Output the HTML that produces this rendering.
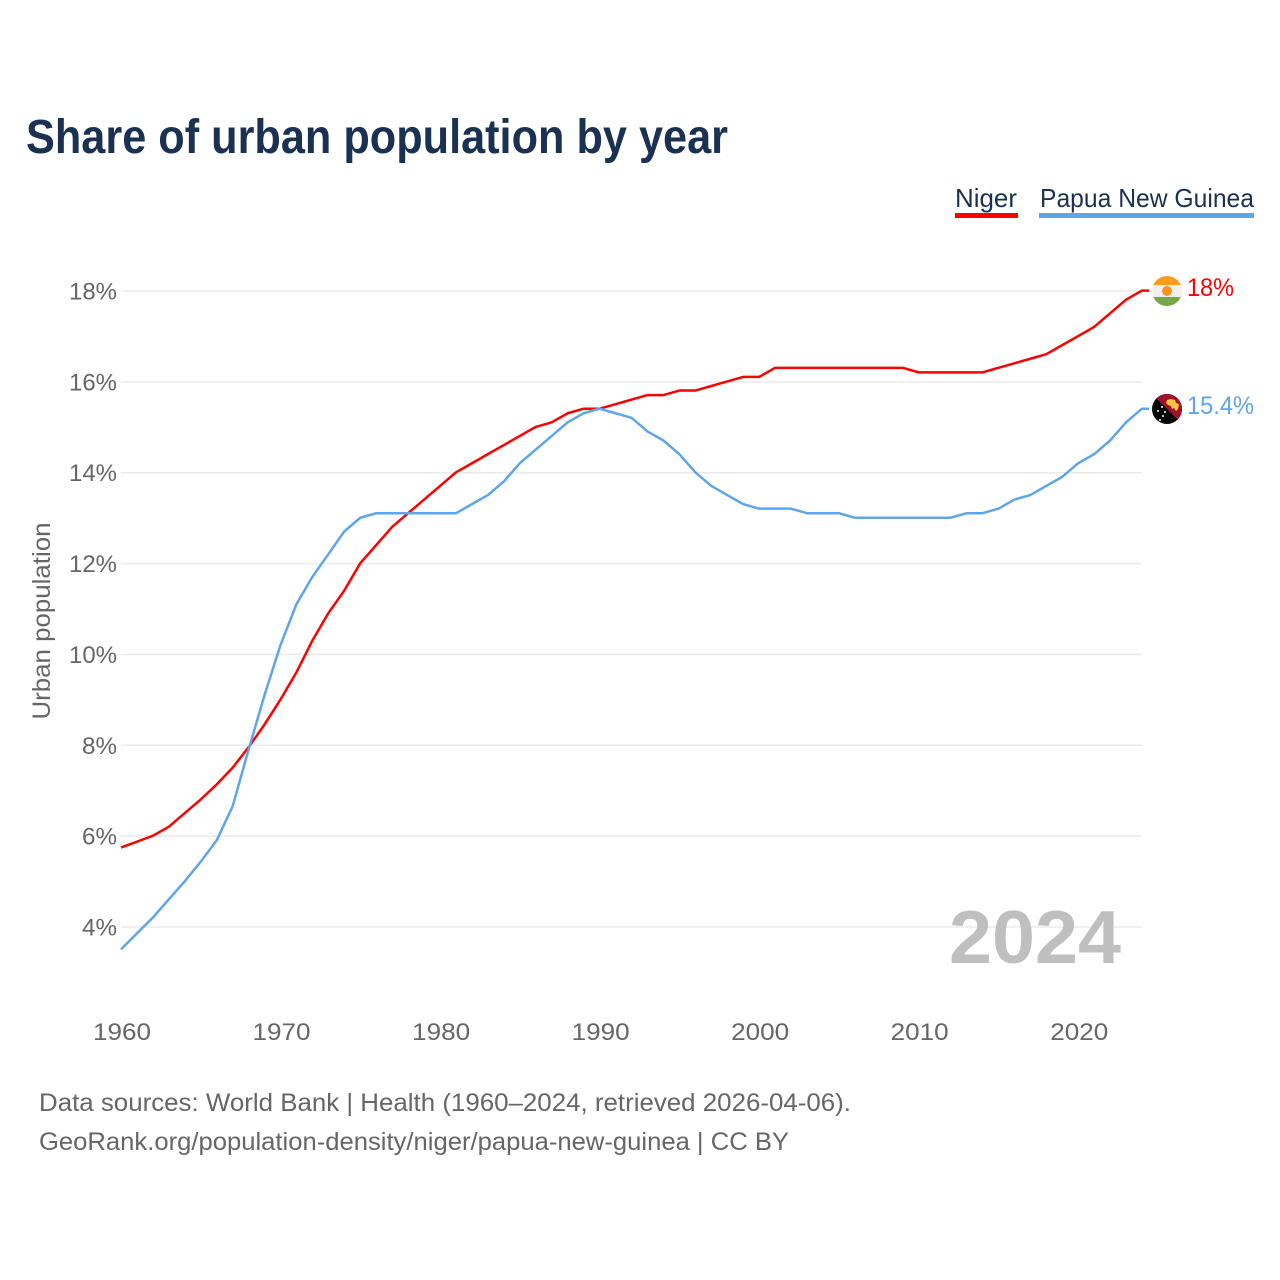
<!DOCTYPE html>
<html lang="en">
<head>
<meta charset="utf-8">
<title>Share of urban population by year</title>
<style>
html,body{margin:0;padding:0;background:#fff;width:1280px;height:1280px;overflow:hidden}
svg{display:block}
text{font-family:"Liberation Sans",sans-serif}
</style>
</head>
<body>
<svg id="chart" xmlns="http://www.w3.org/2000/svg" width="1280" height="1280" viewBox="0 0 1280 1280">
  <rect x="0" y="0" width="1280" height="1280" fill="#ffffff"/>
  <text x="26" y="153" font-size="48" font-weight="700" fill="#1a3152" textLength="702" lengthAdjust="spacingAndGlyphs">Share of urban population by year</text>

  <g>
    <g>
      <text x="955" y="207" font-size="26" fill="#1a3152" textLength="62" lengthAdjust="spacingAndGlyphs">Niger</text>
      <rect x="955" y="213" width="63" height="5" fill="#ff0000"/>
    </g>
    <g>
      <text x="1040" y="207" font-size="26" fill="#1a3152" textLength="214" lengthAdjust="spacingAndGlyphs">Papua New Guinea</text>
      <rect x="1039" y="213" width="215" height="5" fill="#60a5ea"/>
    </g>
  </g>

  <g id="grid"></g>
  <g id="yticks"></g>
  <g id="xticks"></g>

  <text transform="translate(50,621) rotate(-90)" text-anchor="middle" font-size="25" fill="#666666" textLength="197" lengthAdjust="spacingAndGlyphs">Urban population</text>

  <text x="949" y="963" font-size="75" font-weight="700" fill="#bfbfbf" textLength="172" lengthAdjust="spacingAndGlyphs">2024</text>

  <g id="series"></g>

  <g>
    <clipPath id="clipNiger"><circle cx="1167" cy="291" r="15"/></clipPath>
    <g clip-path="url(#clipNiger)">
      <rect x="1152" y="276" width="30" height="10" fill="#fb9d1c"/>
      <rect x="1152" y="285" width="30" height="12" fill="#efefef"/>
      <rect x="1152" y="297" width="30" height="9" fill="#76a648"/>
      <circle cx="1167" cy="291" r="5" fill="#f7931e"/>
    </g>
  </g>
  <g>
    <clipPath id="clipPng"><circle cx="1167" cy="409" r="15"/></clipPath>
    <g clip-path="url(#clipPng)">
      <rect x="1152" y="394" width="30" height="30" fill="#000000"/>
      <polygon points="1152,394 1182,394 1182,424" fill="#a0112e"/>
      <path d="M1167 400l4-1 4 1 1 3 3 1-1 5-2 2-2-3-2 1-1-3-3-1-2-2z" fill="#f5c542"/>
      <circle cx="1158" cy="411" r="1" fill="#fff"/>
      <circle cx="1162" cy="407" r="1" fill="#fff"/>
      <circle cx="1165" cy="412" r="1" fill="#fff"/>
      <circle cx="1163" cy="416" r="1" fill="#fff"/>
      <circle cx="1160" cy="420" r="1" fill="#fff"/>
    </g>
  </g>

  <text x="1187" y="296" font-size="25" fill="#ff0000" textLength="47" lengthAdjust="spacingAndGlyphs">18%</text>
  <text x="1187" y="414" font-size="25" fill="#60a5ea" textLength="67" lengthAdjust="spacingAndGlyphs">15.4%</text>

  <text x="39" y="1111" font-size="25" fill="#666666" textLength="812" lengthAdjust="spacingAndGlyphs">Data sources: World Bank | Health (1960–2024, retrieved 2026-04-06).</text>
  <text x="39" y="1150" font-size="25" fill="#666666" textLength="750" lengthAdjust="spacingAndGlyphs">GeoRank.org/population-density/niger/papua-new-guinea | CC BY</text>
</svg>
<script>
const years = [1960,1961,1962,1963,1964,1965,1966,1967,1968,1969,1970,1971,1972,1973,1974,1975,1976,1977,1978,1979,1980,1981,1982,1983,1984,1985,1986,1987,1988,1989,1990,1991,1992,1993,1994,1995,1996,1997,1998,1999,2000,2001,2002,2003,2004,2005,2006,2007,2008,2009,2010,2011,2012,2013,2014,2015,2016,2017,2018,2019,2020,2021,2022,2023,2024];
const nigerValues = [5.74,5.87,6.0,6.2,6.5,6.8,7.13,7.5,7.95,8.45,9.0,9.6,10.3,10.9,11.4,12.0,12.4,12.8,13.1,13.4,13.7,14.0,14.2,14.4,14.6,14.8,15.0,15.1,15.3,15.4,15.4,15.5,15.6,15.7,15.7,15.8,15.8,15.9,16.0,16.1,16.1,16.3,16.3,16.3,16.3,16.3,16.3,16.3,16.3,16.3,16.2,16.2,16.2,16.2,16.2,16.3,16.4,16.5,16.6,16.8,17.0,17.2,17.5,17.8,18.0];
const pngValues = [3.5,3.85,4.2,4.6,5.0,5.43,5.9,6.65,7.9,9.1,10.2,11.1,11.7,12.2,12.7,13.0,13.1,13.1,13.1,13.1,13.1,13.1,13.3,13.5,13.8,14.2,14.5,14.8,15.1,15.3,15.4,15.3,15.2,14.9,14.7,14.4,14.0,13.7,13.5,13.3,13.2,13.2,13.2,13.1,13.1,13.1,13.0,13.0,13.0,13.0,13.0,13.0,13.0,13.1,13.1,13.2,13.4,13.5,13.7,13.9,14.2,14.4,14.7,15.1,15.4];
const yTickValues = [4,6,8,10,12,14,16,18];
const xTickValues = [1960,1970,1980,1990,2000,2010,2020];

const NS = 'http://www.w3.org/2000/svg';
function xScale(year){ return 121 + (year - 1960) * (1142 - 121) / 64; }
function yScale(v){ return 927 - (v - 4) * (927 - 291) / 14; }
function make(tag, attrs, parent){
  const el = document.createElementNS(NS, tag);
  for (const k in attrs) el.setAttribute(k, attrs[k]);
  parent.appendChild(el);
  return el;
}

const grid = document.getElementById('grid');
const yticks = document.getElementById('yticks');
yTickValues.forEach(function(v){
  const line = make('line', {x1:121, x2:1142, y1:yScale(v), y2:yScale(v), stroke:'#ebebeb', 'stroke-width':1.5}, grid);
  
  
  const t = make('text', {x:117, y:yScale(v)+8.5, 'text-anchor':'end', 'font-size':24, fill:'#666666', textLength: v >= 10 ? 48 : 35, lengthAdjust:'spacingAndGlyphs'}, yticks);
  t.textContent = v + '%';
  
  
});

const xticks = document.getElementById('xticks');
xTickValues.forEach(function(y){
  const t = make('text', {x:xScale(y)+1, y:1040, 'text-anchor':'middle', 'font-size':24, fill:'#666666', textLength:58, lengthAdjust:'spacingAndGlyphs'}, xticks);
  t.textContent = String(y);
  
  
});

const seriesGroup = document.getElementById('series');
function drawSeries(values, color, name){
  const pts = values.map(function(v, i){ return xScale(years[i]).toFixed(2) + ',' + (yScale(v) - 0.4).toFixed(2); });
  const last = values[values.length - 1];
  pts.push('1149,' + (yScale(last) - 0.4).toFixed(2));
  const line = make('polyline', {points: pts.join(' '), fill:'none', stroke:color, 'stroke-width':2.5, 'stroke-linejoin':'round'}, seriesGroup);
  
  
}
drawSeries(nigerValues, '#ff0000', 'line-niger');
drawSeries(pngValues, '#60a5ea', 'line-papua-new-guinea');
</script>
</body>
</html>
